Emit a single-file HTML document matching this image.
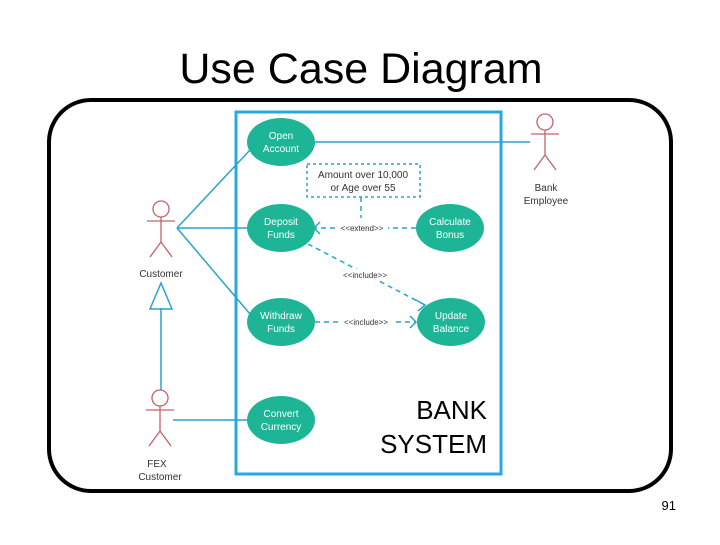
<!DOCTYPE html>
<html><head><style>
body{margin:0;background:#fff;width:720px;height:540px;overflow:hidden;font-family:"Liberation Sans",sans-serif}
</style></head><body>
<svg width="720" height="540" xmlns="http://www.w3.org/2000/svg" font-family="Liberation Sans, sans-serif">
<text x="361" y="83" font-size="43" text-anchor="middle" fill="#000">Use Case Diagram</text>
<rect x="49" y="100" width="622" height="391" rx="42" fill="none" stroke="#000" stroke-width="4"/>
<rect x="236" y="112" width="265" height="362" fill="none" stroke="#29a8e0" stroke-width="3"/>
<g stroke="#2aa3cc" stroke-width="1.5" fill="none">
<line x1="177" y1="228" x2="250" y2="150"/>
<line x1="177" y1="228" x2="247" y2="228"/>
<line x1="177" y1="228" x2="250" y2="314"/>
<line x1="313" y1="142" x2="530" y2="142"/>
<line x1="173" y1="420" x2="247" y2="420"/>
<line x1="161" y1="308" x2="161" y2="390"/>
<polygon points="161,283 150,309 172,309"/>
</g>
<g stroke="#2aa3cc" stroke-width="1.5" fill="none" stroke-dasharray="5,4">
<rect x="307" y="164" width="113" height="33" stroke-dasharray="3,3"/>
<line x1="361" y1="197" x2="361" y2="218"/>
<line x1="416" y1="228" x2="315" y2="228"/>
<line x1="308" y1="244" x2="425" y2="305"/>
<line x1="315" y1="322" x2="415" y2="322"/>
</g>
<g stroke="#2aa3cc" stroke-width="1.5" fill="none">
<polyline points="320,222 314,228 320,234"/>
<polyline points="416,300 425,305 418,311"/>
<polyline points="410,316 416,322 410,328"/>
</g>
<rect x="336" y="222" width="52" height="12" fill="#fff"/>
<text x="362" y="231" font-size="8" text-anchor="middle" fill="#333">&lt;&lt;extend&gt;&gt;</text>
<rect x="338" y="269" width="54" height="12" fill="#fff"/>
<text x="365" y="278" font-size="8" text-anchor="middle" fill="#333">&lt;&lt;include&gt;&gt;</text>
<rect x="340" y="316" width="52" height="12" fill="#fff"/>
<text x="366" y="325" font-size="8" text-anchor="middle" fill="#333">&lt;&lt;include&gt;&gt;</text>
<text x="363" y="178" font-size="10" text-anchor="middle" fill="#333">Amount over 10,000</text>
<text x="363" y="191" font-size="10" text-anchor="middle" fill="#333">or Age over 55</text>
<g fill="#1eb597">
<ellipse cx="281" cy="142" rx="34" ry="24"/>
<ellipse cx="281" cy="228" rx="34" ry="24"/>
<ellipse cx="450" cy="228" rx="34" ry="24"/>
<ellipse cx="281" cy="322" rx="34" ry="24"/>
<ellipse cx="451" cy="322" rx="34" ry="24"/>
<ellipse cx="281" cy="420" rx="34" ry="24"/>
</g>
<g fill="#fff" font-size="10" text-anchor="middle">
<text x="281" y="139">Open</text><text x="281" y="152">Account</text>
<text x="281" y="225">Deposit</text><text x="281" y="238">Funds</text>
<text x="450" y="225">Calculate</text><text x="450" y="238">Bonus</text>
<text x="281" y="319">Withdraw</text><text x="281" y="332">Funds</text>
<text x="451" y="319">Update</text><text x="451" y="332">Balance</text>
<text x="281" y="417">Convert</text><text x="281" y="430">Currency</text>
</g>
<g stroke="#c0646b" stroke-width="1.3" fill="none">
<circle cx="161" cy="209" r="8"/><line x1="161" y1="217" x2="161" y2="242"/><line x1="147" y1="221" x2="175" y2="221"/><polyline points="150,257 161,242 172,257"/>
<circle cx="160" cy="398" r="8"/><line x1="160" y1="406" x2="160" y2="431"/><line x1="146" y1="410" x2="174" y2="410"/><polyline points="149,446 160,431 171,446"/>
<circle cx="545" cy="122" r="8"/><line x1="545" y1="130" x2="545" y2="155"/><line x1="531" y1="134" x2="559" y2="134"/><polyline points="534,170 545,155 556,170"/>
</g>
<g fill="#333" font-size="10" text-anchor="middle">
<text x="161" y="277">Customer</text>
<text x="157" y="467">FEX</text><text x="160" y="480">Customer</text>
<text x="546" y="191">Bank</text><text x="546" y="204">Employee</text>
</g>
<text x="487" y="419" font-size="26" text-anchor="end" fill="#000">BANK</text>
<text x="487" y="453" font-size="26" text-anchor="end" fill="#000">SYSTEM</text>
<text x="676" y="510" font-size="13" text-anchor="end" fill="#000">91</text>
</svg>
</body></html>
